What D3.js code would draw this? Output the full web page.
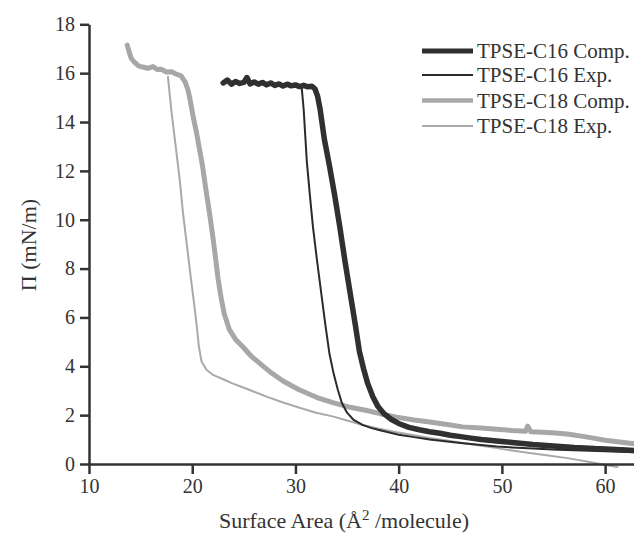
<!DOCTYPE html>
<html>
<head>
    <meta charset="utf-8">
    <title>Isotherms</title>
    <style>
        body { margin: 0; background: #fff; }
        .axis path, .axis line { stroke: #333; stroke-width: 2.5px; }
        .axis text { font-family: "Liberation Serif", serif; font-size: 20px; fill: #333; }
        .title { font-family: "Liberation Serif", serif; font-size: 22px; fill: #333; }
        .legend text { font-family: "Liberation Serif", serif; font-size: 21px; fill: #333; }
        .curve { fill: none; stroke-linejoin: round; stroke-linecap: round; }
    </style>
    <script src="https://d3js.org/d3.v7.min.js"></script>
</head>
<body>
<svg id="chart" width="634" height="534"></svg>

<script>
    // [area (Å²/molecule), pressure (mN/m)]
    var c16Comp = [
        [23.0, 15.6], [23.4, 15.72], [23.8, 15.55], [24.2, 15.66], [24.6, 15.58], [25.0, 15.62],
        [25.3, 15.82], [25.6, 15.56], [26.0, 15.64], [26.4, 15.55], [26.8, 15.62], [27.2, 15.52],
        [27.6, 15.6], [28.0, 15.5], [28.4, 15.56], [28.8, 15.47], [29.2, 15.55], [29.6, 15.48],
        [30.0, 15.52], [30.4, 15.45], [30.8, 15.5], [31.2, 15.44], [31.6, 15.46], [31.9, 15.35],
        [32.15, 15.05], [32.4, 14.5], [32.8, 13.3], [33.3, 12.2], [33.8, 11.0], [34.3, 9.7],
        [34.8, 8.3], [35.3, 7.0], [35.8, 5.7], [36.2, 4.6], [36.6, 3.9], [37.0, 3.3], [37.5, 2.75],
        [38.0, 2.35], [38.6, 2.05], [39.3, 1.82], [40.0, 1.66], [41.0, 1.5], [42.0, 1.4],
        [43.0, 1.32], [44.0, 1.26], [45.0, 1.18], [46.0, 1.12], [47.0, 1.06], [48.0, 1.0],
        [49.0, 0.96], [50.0, 0.92], [51.0, 0.88], [52.0, 0.84], [53.0, 0.8], [54.0, 0.77],
        [55.0, 0.74], [56.0, 0.71], [57.0, 0.68], [58.0, 0.66], [59.0, 0.63], [60.0, 0.61],
        [61.0, 0.59], [62.0, 0.57], [62.8, 0.55]
    ];

    var c16Exp = [
        [30.6, 15.45], [30.8, 14.5], [31.1, 12.4], [31.4, 11.0], [31.7, 9.7], [32.1, 8.3],
        [32.5, 7.0], [32.9, 5.7], [33.3, 4.5], [33.7, 3.7], [34.1, 3.05], [34.5, 2.5], [35.0, 2.1],
        [35.6, 1.82], [36.5, 1.6], [37.3, 1.48], [38.0, 1.4], [39.0, 1.3], [40.0, 1.2],
        [41.5, 1.1], [43.0, 1.0], [44.5, 0.93], [46.0, 0.86], [47.5, 0.8], [49.5, 0.72],
        [51.0, 0.68], [52.5, 0.64], [54.0, 0.61], [55.5, 0.58], [57.0, 0.56], [58.5, 0.54],
        [60.0, 0.52], [61.5, 0.5], [62.8, 0.48]
    ];

    var c18Comp = [
        [13.7, 17.15], [13.9, 16.85], [14.1, 16.6], [14.4, 16.45], [14.8, 16.3], [15.2, 16.25],
        [15.7, 16.2], [16.2, 16.27], [16.6, 16.15], [17.0, 16.16], [17.5, 16.05], [18.0, 16.06],
        [18.5, 15.95], [18.9, 15.9], [19.3, 15.65], [19.6, 15.3], [19.8, 14.9], [20.1, 14.2],
        [20.4, 13.6], [20.7, 12.9], [21.0, 12.2], [21.3, 11.3], [21.7, 10.2], [22.0, 9.3],
        [22.3, 8.3], [22.5, 7.6], [22.8, 6.8], [23.1, 6.15], [23.6, 5.5], [24.2, 5.1],
        [24.9, 4.8], [25.7, 4.42], [26.6, 4.1], [27.6, 3.75], [28.8, 3.4], [30.3, 3.05],
        [32.1, 2.72], [33.7, 2.5], [35.3, 2.32], [36.8, 2.2], [38.2, 2.06], [39.8, 1.92],
        [41.5, 1.8], [43.0, 1.72], [44.7, 1.62], [46.2, 1.52], [48.0, 1.47], [49.5, 1.42],
        [51.0, 1.37], [52.3, 1.34], [52.5, 1.55], [52.8, 1.32], [54.0, 1.3], [55.5, 1.26],
        [56.5, 1.22], [58.0, 1.12], [59.0, 1.05], [60.0, 0.97], [61.0, 0.92], [62.0, 0.87],
        [62.8, 0.83]
    ];

    var c18Exp = [
        [17.65, 15.85], [17.85, 15.0], [18.0, 14.4], [18.4, 13.0], [18.8, 11.6], [19.1, 10.3],
        [19.5, 8.9], [19.9, 7.5], [20.2, 6.5], [20.45, 5.6], [20.65, 4.8], [20.9, 4.2],
        [21.4, 3.85], [22.0, 3.65], [23.0, 3.47], [23.9, 3.3], [25.0, 3.12], [26.0, 2.96],
        [27.2, 2.76], [28.8, 2.52], [30.4, 2.3], [32.0, 2.1], [33.6, 1.95], [35.0, 1.78],
        [36.5, 1.6], [38.0, 1.45], [39.8, 1.3], [41.5, 1.18], [43.0, 1.06], [44.7, 0.96],
        [46.2, 0.86], [48.0, 0.75], [49.5, 0.65], [51.0, 0.55], [52.5, 0.46], [54.5, 0.35],
        [56.5, 0.23], [58.5, 0.08], [60.0, -0.04], [61.2, -0.12]
    ];

    var seriesNames = ["TPSE-C16 Comp.", "TPSE-C16 Exp.", "TPSE-C18 Comp.", "TPSE-C18 Exp."];
    var xTicks = [10, 20, 30, 40, 50, 60];
    var yTicks = [0, 2, 4, 6, 8, 10, 12, 14, 16, 18];

    var svg = d3.select("#chart");

    var x = d3.scaleLinear().domain([10, 62.8]).range([89, 634]);
    var y = d3.scaleLinear().domain([0, 18]).range([464, 24.3]);

    var series = [
        { name: seriesNames[0], data: c16Comp, color: "#303030", width: 5.5, legendWidth: 5 },
        { name: seriesNames[1], data: c16Exp, color: "#2b2b2b", width: 2, legendWidth: 2.2 },
        { name: seriesNames[2], data: c18Comp, color: "#a7a7aa", width: 5, legendWidth: 4.5 },
        { name: seriesNames[3], data: c18Exp, color: "#a9a9ab", width: 2, legendWidth: 2 }
    ];

    var line = d3.line()
        .x(function(d) { return x(d[0]); })
        .y(function(d) { return y(d[1]); });

    // draw order: grey below black
    [3, 2, 1, 0].forEach(function(i) {
        var s = series[i];
        svg.append("path")
            .attr("class", "curve")
            .attr("d", line(s.data))
            .attr("stroke", s.color)
            .attr("stroke-width", s.width);
    });

    var xAxis = svg.append("g")
        .attr("class", "axis")
        .attr("transform", "translate(0,464)")
        .call(d3.axisBottom(x).tickValues(xTicks).tickSize(10).tickSizeOuter(0).tickPadding(5));
    var yAxis = svg.append("g")
        .attr("class", "axis")
        .attr("transform", "translate(89,0)")
        .call(d3.axisLeft(y).tickValues(yTicks).tickSize(9).tickSizeOuter(0).tickPadding(5));

    svg.append("text")
        .attr("class", "title")
        .attr("x", 344)
        .attr("y", 528)
        .attr("text-anchor", "middle")
        .html("Surface Area (Å<tspan dy='-8' font-size='15'>2</tspan><tspan dy='8'> /molecule)</tspan>");

    svg.append("text")
        .attr("class", "title")
        .attr("transform", "translate(36,245) rotate(-90)")
        .attr("text-anchor", "middle")
        .text("Π (mN/m)");

    var legendY = [51, 75, 100.5, 126];
    var legend = svg.append("g").attr("class", "legend");
    series.forEach(function(s, i) {
        legend.append("line")
            .attr("x1", 422).attr("x2", 473)
            .attr("y1", legendY[i]).attr("y2", legendY[i])
            .attr("stroke", s.color)
            .attr("stroke-width", s.legendWidth);
        legend.append("text")
            .attr("x", 477)
            .attr("y", legendY[i] + 7)
            .text(s.name);
    });
</script>
</body>
</html>
